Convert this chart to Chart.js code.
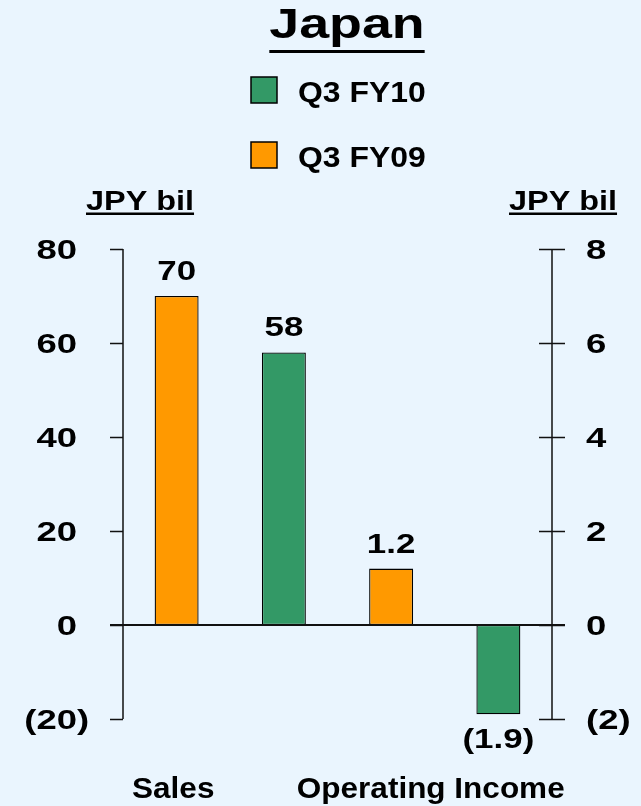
<!DOCTYPE html>
<html>
<head>
<meta charset="utf-8">
<title>Japan</title>
<script src="https://cdn.jsdelivr.net/npm/chart.js@4.4.1/dist/chart.umd.min.js"></script>
<style>
    html, body { margin: 0; padding: 0; background: #eaf5fe; }
    #wrap { position: relative; width: 641px; height: 806px; }
</style>
</head>
<body>
<div id="wrap"><canvas id="japanChart"></canvas></div>
<script>
// Chart data
const categories = ['Sales', 'Operating Income'];
const seriesNames = ['Q3 FY10', 'Q3 FY09'];
const fy10Values = [58, -1.9];
const fy09Values = [70, 1.2];
const leftTicks = [80, 60, 40, 20, 0, -20];
const rightTicks = [8, 6, 4, 2, 0, -2];
const unitLabel = 'JPY bil';
const titleText = 'Japan';

const GREEN = '#339966';
const ORANGE = '#ff9900';
const FONT = '"Liberation Sans", Arial, sans-serif';

// accounting style: negatives in brackets
function fmt(v) {
    return v < 0 ? '(' + Math.abs(v) + ')' : String(v);
}

// draw bold text stretched horizontally like the original slide
function drawText(ctx, text, x, y, size, sx, align) {
    ctx.save();
    ctx.font = 'bold ' + size + 'px ' + FONT;
    ctx.textBaseline = 'alphabetic';
    ctx.textAlign = 'left';
    const w = ctx.measureText(text).width * sx;
    let left = x;
    if (align === 'center') left = x - w / 2;
    else if (align === 'right') left = x - w;
    ctx.translate(left, y);
    ctx.scale(sx, 1);
    ctx.fillStyle = '#000';
    ctx.fillText(text, 0, 0);
    ctx.restore();
    return { left: left, width: w };
}

function textWidth(ctx, text, size, sx) {
    ctx.save();
    ctx.font = 'bold ' + size + 'px ' + FONT;
    const w = ctx.measureText(text).width * sx;
    ctx.restore();
    return w;
}

// one dataset per bar so each category can use its own axis
function buildDatasets() {
    const sets = [];
    categories.forEach((cat, ci) => {
        const pairs = [[seriesNames[1], fy09Values, ORANGE], [seriesNames[0], fy10Values, GREEN]];
        pairs.forEach(([name, values, color]) => {
            const data = categories.map((c, i) => (i === ci ? values[i] : null));
            sets.push({
                label: name,
                data: data,
                yAxisID: ci === 0 ? 'y' : 'y2',
                backgroundColor: color,
                borderColor: '#000',
                borderWidth: 1.3,
                borderSkipped: false,
                skipNull: true,
                categoryPercentage: 1.0,
                barPercentage: 0.41
            });
        });
    });
    return sets;
}

// Axes, ticks, labels, legend and title
const decorPlugin = {
    id: 'decor',
    afterDatasetsDraw(chart) {
        const ctx = chart.ctx;
        const area = chart.chartArea;
        const y = chart.scales.y;
        const y2 = chart.scales.y2;
        const x = chart.scales.x;
        const tick = 13;

        ctx.save();
        ctx.strokeStyle = '#111';
        ctx.lineWidth = 1.5;

        // left axis
        ctx.beginPath();
        ctx.moveTo(area.left, y.getPixelForValue(leftTicks[0]));
        ctx.lineTo(area.left, y.getPixelForValue(leftTicks[leftTicks.length - 1]));
        leftTicks.forEach(v => {
            const py = Math.round(y.getPixelForValue(v)) + 0.5;
            ctx.moveTo(area.left - tick, py);
            ctx.lineTo(area.left, py);
        });
        ctx.stroke();

        // right axis, ticks cross the line
        ctx.beginPath();
        ctx.moveTo(area.right, y2.getPixelForValue(rightTicks[0]));
        ctx.lineTo(area.right, y2.getPixelForValue(rightTicks[rightTicks.length - 1]));
        rightTicks.forEach(v => {
            const py = Math.round(y2.getPixelForValue(v)) + 0.5;
            ctx.moveTo(area.right - tick, py);
            ctx.lineTo(area.right + tick, py);
        });
        ctx.stroke();

        // zero line
        ctx.lineWidth = 2;
        ctx.beginPath();
        const zy = Math.round(y.getPixelForValue(0));
        ctx.moveTo(area.left - tick, zy);
        ctx.lineTo(area.right + tick, zy);
        ctx.stroke();
        ctx.restore();

        // tick labels
        const tSize = 28.5, tSx = 1.28;
        leftTicks.forEach(v => {
            const label = fmt(v);
            const core = v < 0 ? label.slice(0, -1) : label;
            const left = 77 - textWidth(ctx, core, tSize, tSx);
            drawText(ctx, label, left, y.getPixelForValue(v) + 10, tSize, tSx, 'left');
        });
        rightTicks.forEach(v => {
            drawText(ctx, fmt(v), area.right + 34, y2.getPixelForValue(v) + 10, tSize, tSx, 'left');
        });

        // value labels on bars
        chart.data.datasets.forEach((ds, di) => {
            const meta = chart.getDatasetMeta(di);
            ds.data.forEach((v, i) => {
                if (v === null) return;
                const bar = meta.data[i];
                const ty = v >= 0 ? bar.y - 16 : bar.y + 34;
                drawText(ctx, fmt(v), bar.x, ty, 27.5, 1.27, 'center');
            });
        });

        // category labels
        const catShift = [-57, -14];
        categories.forEach((c, i) => {
            drawText(ctx, c, x.getPixelForValue(i) + catShift[i], 798, 30, 1.05, 'center');
        });

        // axis unit titles, underlined
        ctx.fillStyle = '#000';
        const u1 = drawText(ctx, unitLabel, 86, 209.5, 27, 1.2, 'left');
        ctx.fillRect(u1.left, 212.5, u1.width, 2.5);
        const u2 = drawText(ctx, unitLabel, 509, 209.5, 27, 1.2, 'left');
        ctx.fillRect(u2.left, 212.5, u2.width, 2.5);

        // title
        const t = drawText(ctx, titleText, 347, 38, 43, 1.25, 'center');
        ctx.fillRect(t.left, 50, t.width, 3);

        // legend (FY10 first)
        const legendItems = [[seriesNames[0], GREEN], [seriesNames[1], ORANGE]];
        legendItems.forEach(([name, color], i) => {
            const by = 77 + i * 65;
            ctx.save();
            ctx.fillStyle = color;
            ctx.fillRect(251, by, 26, 26);
            ctx.strokeStyle = '#000';
            ctx.lineWidth = 1.5;
            ctx.strokeRect(251, by, 26, 26);
            ctx.restore();
            drawText(ctx, name, 298, by + 25, 29, 1.1, 'left');
        });
    }
};

new Chart(document.getElementById('japanChart'), {
    type: 'bar',
    data: {
        labels: categories,
        datasets: buildDatasets()
    },
    options: {
        responsive: true,
        maintainAspectRatio: false,
        animation: false,
        layout: {
            padding: { left: 123, right: 89, top: 249, bottom: 87 }
        },
        plugins: {
            legend: { display: false },
            title: { display: false },
            tooltip: { enabled: false }
        },
        scales: {
            x: { display: false, offset: true },
            y: { display: false, min: -20, max: 80 },
            y2: { display: false, position: 'right', min: -2, max: 8 }
        }
    },
    plugins: [decorPlugin]
});
</script>
</body>
</html>
